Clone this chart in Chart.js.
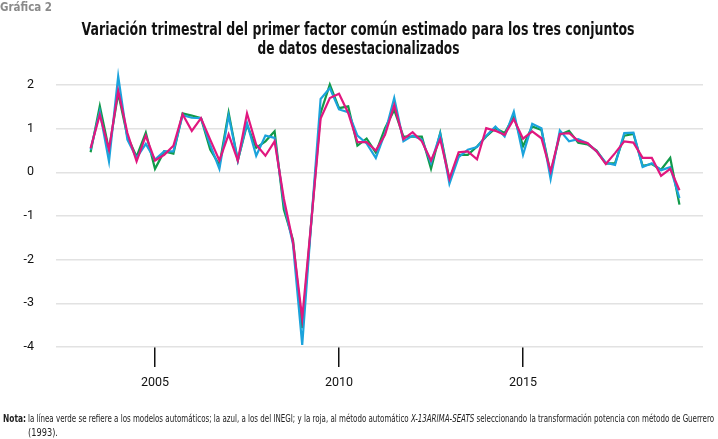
<!DOCTYPE html>
<html>
<head>
<meta charset="utf-8">
<script src="https://cdn.jsdelivr.net/npm/chart.js@4.4.1/dist/chart.umd.min.js"></script>
<style>
  body { margin: 0; background: #fff; }
  #wrap { position: relative; width: 718px; height: 439px; overflow: hidden; font-family: "DejaVu Sans", sans-serif; }
  #myChart { position: absolute; left: 0; top: 0; }
  .fit { display: inline-block; white-space: nowrap; }
  .label { position: absolute; left: 0px; top: 0px; font-size: 12px; font-weight: bold; color: #8a8a8a; transform-origin: left center; }
  .title { position: absolute; left: -300px; width: 1316px; text-align: center; font-size: 18px; font-weight: bold; line-height: 19px; color: #111; }
  .title .fit { transform-origin: center center; }
  .note { position: absolute; left: 0; width: 718px; font-size: 10.5px; line-height: 14px; color: #222; }
  .note .fit { position: absolute; transform-origin: left center; }
</style>
</head>
<body>
<div id="wrap">
  <canvas id="myChart" width="718" height="439"></canvas>
  <span class="label fit" data-w="52">Gráfica 2</span>
  <div class="title" style="top:19px"><span class="fit" data-w="553">Variación trimestral del primer factor común estimado para los tres conjuntos</span></div>
  <div class="title" style="top:38px"><span class="fit" data-w="202">de datos desestacionalizados</span></div>
  <div class="note" style="top:411px">
    <span class="fit" style="left:3px" data-w="23"><b>Nota:</b></span>
    <span class="fit" style="left:28px" data-w="686">la línea verde se refiere a los modelos automáticos; la azul, a los del INEGI; y la roja, al método automático <i>X-13ARIMA-SEATS</i> seleccionando la transformación potencia con método de Guerrero</span>
  </div>
  <div class="note" style="top:425px">
    <span class="fit" style="left:28px" data-w="30">(1993).</span>
  </div>
</div>
<script>
const quarters = [
  "2003-T2", "2003-T3", "2003-T4",
  "2004-T1", "2004-T2", "2004-T3", "2004-T4",
  "2005-T1", "2005-T2", "2005-T3", "2005-T4",
  "2006-T1", "2006-T2", "2006-T3", "2006-T4",
  "2007-T1", "2007-T2", "2007-T3", "2007-T4",
  "2008-T1", "2008-T2", "2008-T3", "2008-T4",
  "2009-T1", "2009-T2", "2009-T3", "2009-T4",
  "2010-T1", "2010-T2", "2010-T3", "2010-T4",
  "2011-T1", "2011-T2", "2011-T3", "2011-T4",
  "2012-T1", "2012-T2", "2012-T3", "2012-T4",
  "2013-T1", "2013-T2", "2013-T3", "2013-T4",
  "2014-T1", "2014-T2", "2014-T3", "2014-T4",
  "2015-T1", "2015-T2", "2015-T3", "2015-T4",
  "2016-T1", "2016-T2", "2016-T3", "2016-T4",
  "2017-T1", "2017-T2", "2017-T3", "2017-T4",
  "2018-T1", "2018-T2", "2018-T3", "2018-T4",
  "2019-T1", "2019-T2"
];

// linea verde: modelos automaticos
const automaticos = [
  0.46, 1.52, 0.52, 1.81, 0.82, 0.36, 0.91, 0.08, 0.48, 0.43,
  1.35, 1.30, 1.24, 0.52, 0.17, 1.37, 0.27, 1.09, 0.56, 0.71,
  0.94, -0.85, -1.55, -3.57, -1.10, 1.36, 2.01, 1.47, 1.51, 0.61,
  0.77, 0.45, 1.01, 1.43, 0.82, 0.82, 0.82, 0.08, 0.90, -0.17,
  0.40, 0.40, 0.59, 0.82, 1.01, 0.90, 1.28, 0.60, 1.05, 0.97,
  -0.02, 0.86, 0.95, 0.68, 0.64, 0.50, 0.20, 0.21, 0.84, 0.88,
  0.15, 0.19, 0.06, 0.33, -0.74
];

// linea azul: INEGI
const inegi = [
  0.52, 1.39, 0.25, 2.20, 0.75, 0.33, 0.65, 0.29, 0.48, 0.48,
  1.31, 1.25, 1.24, 0.63, 0.08, 1.30, 0.27, 1.13, 0.38, 0.84,
  0.79, -0.70, -1.65, -3.95, -1.10, 1.68, 1.93, 1.44, 1.38, 0.84,
  0.66, 0.33, 0.90, 1.70, 0.71, 0.84, 0.75, 0.21, 0.88, -0.26,
  0.35, 0.52, 0.58, 0.84, 1.05, 0.82, 1.39, 0.40, 1.11, 1.01,
  -0.15, 0.96, 0.71, 0.76, 0.67, 0.48, 0.22, 0.17, 0.90, 0.91,
  0.12, 0.21, 0.05, 0.12, -0.59
];

// linea roja: X-13ARIMA-SEATS con transformacion de Guerrero
const x13 = [
  0.55, 1.32, 0.52, 1.87, 0.90, 0.25, 0.84, 0.27, 0.40, 0.61,
  1.33, 0.95, 1.24, 0.75, 0.27, 0.87, 0.27, 1.35, 0.63, 0.38,
  0.71, -0.60, -1.60, -3.34, -1.10, 1.23, 1.70, 1.80, 1.36, 0.69,
  0.69, 0.50, 0.86, 1.54, 0.76, 0.92, 0.71, 0.27, 0.76, -0.15,
  0.46, 0.48, 0.30, 1.01, 0.95, 0.86, 1.22, 0.77, 0.94, 0.78,
  0.02, 0.88, 0.90, 0.72, 0.67, 0.48, 0.19, 0.44, 0.71, 0.68,
  0.33, 0.33, -0.08, 0.08, -0.41
];

const yearTicks = [2005, 2010, 2015];
const yTicks = [2, 1, 0, -1, -2, -3, -4];

const axisFont = { family: "Roboto", size: 12.5 };

// squeeze the html text to the widths of the condensed original font
document.querySelectorAll(".fit").forEach((el) => {
  const w = el.getBoundingClientRect().width;
  el.style.transform = "scaleX(" + Number(el.dataset.w) / w + ")";
});

function toPoints(values) {
  return values.map((v, i) => {
    const parts = quarters[i].split("-T");
    return { x: Number(parts[0]) + (Number(parts[1]) - 1) / 4, y: v };
  });
}

function lineSet(values, color, order) {
  return {
    data: toPoints(values),
    borderColor: color,
    borderWidth: 2.2,
    pointRadius: 0,
    tension: 0,
    clip: false,
    order: order,
  };
}

const config = {
  type: "line",
  data: {
    datasets: [
      lineSet(automaticos, "#119a4a", 2),
      lineSet(inegi, "#1ba3dc", 1),
      lineSet(x13, "#e1177f", 0),
    ],
  },
  options: {
    responsive: false,
    animation: false,
    layout: {
      padding: { left: 0, right: 15, top: 85, bottom: 42 },
    },
    scales: {
      x: {
        type: "linear",
        min: 2002.31,
        max: 2019.89,
        afterBuildTicks: (scale) => {
          scale.ticks = yearTicks.map((v) => ({ value: v }));
        },
        afterFit: (scale) => {
          scale.height = 50;
        },
        border: { display: false },
        grid: {
          drawOnChartArea: false,
          drawTicks: true,
          tickLength: 20,
          color: "#111",
          lineWidth: 1.5,
        },
        ticks: {
          font: axisFont,
          color: "#111",
          padding: 8,
          maxRotation: 0,
          callback: (v) => String(v),
        },
      },
      y: {
        min: -4,
        max: 2,
        afterBuildTicks: (scale) => {
          scale.ticks = yTicks.map((v) => ({ value: v }));
        },
        afterFit: (scale) => {
          scale.width = 56;
        },
        border: { display: false },
        grid: {
          color: "#e2e2e2",
          lineWidth: 1.5,
          drawTicks: false,
        },
        ticks: {
          font: axisFont,
          color: "#111",
          padding: 22,
        },
      },
    },
    plugins: {
      legend: { display: false },
      title: { display: false },
      tooltip: { enabled: false },
    },
  },
};

const myChart = new Chart(document.getElementById("myChart"), config);
</script>
</body>
</html>
